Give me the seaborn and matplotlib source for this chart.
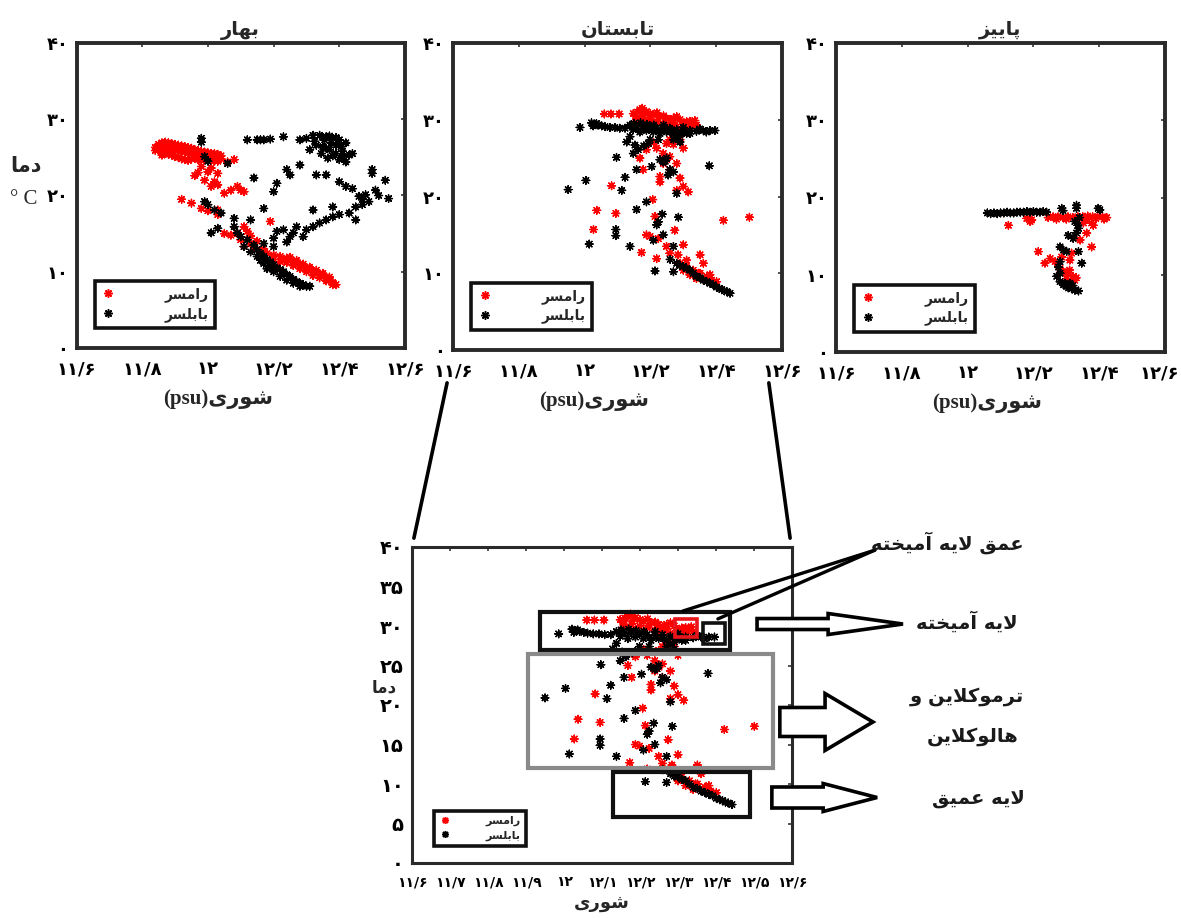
import re
import numpy as np
import pandas as pd
import matplotlib
matplotlib.use("Agg")
import matplotlib.pyplot as plt
import seaborn as sns
from matplotlib.patches import Rectangle, FancyArrow, ConnectionPatch
from matplotlib.lines import Line2D
from matplotlib.transforms import ScaledTranslation

# ------------------------------------------------------------------ data
seasons = ["بهار", "تابستان", "پاییز"]
stations = ["رامسر", "بابلسر"]
station_colors = ["#ff0000", "#000000"]

xticks_top = [11.6, 11.8, 12.0, 12.2, 12.4, 12.6]
xticklabels_top = ["۱۱/۶", "۱۱/۸", "۱۲", "۱۲/۲", "۱۲/۴", "۱۲/۶"]
yticks_top = [0, 10, 20, 30, 40]
yticklabels_top = ["۰", "۱۰", "۲۰", "۳۰", "۴۰"]

xticks_zoom = [11.6, 11.7, 11.8, 11.9, 12.0, 12.1, 12.2, 12.3, 12.4, 12.5, 12.6]
xticklabels_zoom = ["۱۱/۶", "۱۱/۷", "۱۱/۸", "۱۱/۹", "۱۲", "۱۲/۱", "۱۲/۲",
                    "۱۲/۳", "۱۲/۴", "۱۲/۵", "۱۲/۶"]
yticks_zoom = [0, 5, 10, 15, 20, 25, 30, 35, 40]
yticklabels_zoom = ["۰", "۵", "۱۰", "۱۵", "۲۰", "۲۵", "۳۰", "۳۵", "۴۰"]

xlabel_top = "شوری(psu)"
xlabel_zoom = "شوری"
ylabel_text = "دما"
ylabel_unit = "° C"

layer_labels = ["عمق لایه آمیخته", "لایه آمیخته", "ترموکلاین و", "هالوکلاین", "لایه عمیق"]

# ---- spring (بهار)
spring_ramsar_sal = [
    11.84, 11.85, 11.86, 11.87, 11.88, 11.89, 11.90, 11.91, 11.92, 11.93, 11.94,
    11.95, 11.96, 11.97, 11.98, 11.99, 12.00, 12.01, 12.02, 12.03, 12.04,
    11.84, 11.85, 11.86, 11.87, 11.88, 11.89, 11.90, 11.91, 11.92, 11.93, 11.94,
    11.95, 11.96, 11.97, 11.98, 11.99, 12.00, 12.01, 12.02, 12.03, 12.04,
    11.86, 11.87, 11.88, 11.89, 11.90, 11.91, 11.92, 11.93, 11.94, 11.95, 11.96,
    11.97, 11.98, 11.99, 12.00, 12.01, 12.02, 12.03,
    11.98, 12.00, 12.01, 12.03, 11.99, 12.02, 12.03, 12.01, 12.06, 12.08, 12.05,
    12.07, 12.09, 12.10, 12.11, 11.92, 11.95, 11.98, 12.00, 12.03, 12.03, 12.19,
    11.97, 11.96,
    12.05, 12.07, 12.09, 12.11, 12.12, 12.10, 12.11, 12.13, 12.14, 12.16, 12.18,
    12.20, 12.22, 12.24, 12.26, 12.28, 12.30, 12.32, 12.34, 12.36, 12.38, 12.39,
    12.20, 12.22, 12.24, 12.26, 12.28, 12.30, 12.32, 12.34, 12.36, 12.38,
    12.25, 12.27, 12.29, 12.31, 12.33, 12.35, 12.37, 12.13, 12.15, 12.17]
spring_ramsar_temp = [
    26.3, 26.7, 26.9, 27.0, 26.9, 26.8, 26.7, 26.6, 26.5, 26.4, 26.3,
    26.2, 26.0, 25.9, 25.8, 25.7, 25.6, 25.5, 25.5, 25.4, 25.2,
    25.9, 26.0, 26.2, 26.3, 26.2, 26.1, 26.0, 25.9, 25.8, 25.7, 25.6,
    25.5, 25.4, 25.3, 25.3, 25.2, 25.1, 25.0, 25.0, 24.9, 24.8,
    25.3, 25.5, 25.4, 25.3, 25.1, 25.0, 24.8, 24.7, 24.6, 24.8, 24.9,
    24.7, 24.6, 24.7, 24.6, 24.5, 24.6, 24.5,
    23.8, 23.1, 23.6, 22.9, 22.0, 21.8, 21.4, 21.2, 24.4, 24.7, 20.3,
    20.7, 21.2, 20.7, 20.5, 19.5, 19.0, 18.3, 18.0, 18.1, 17.5, 16.6,
    23.0, 22.6,
    15.0, 14.8, 15.0, 15.9, 15.3, 14.2, 13.3, 13.7, 13.3, 12.7, 12.4,
    12.2, 12.0, 11.8, 11.3, 10.9, 10.5, 10.0, 9.6, 9.2, 8.6, 8.3,
    11.6, 11.3, 11.2, 10.8, 10.4, 10.0, 9.5, 9.2, 8.8, 8.3,
    11.9, 11.5, 11.0, 10.6, 10.2, 9.8, 9.3, 14.7, 14.0, 13.0]

spring_babolsar_sal = [
    11.98, 11.98,
    12.12, 12.15, 12.16, 12.17, 12.19, 12.23, 12.28, 12.30,
    12.32, 12.34, 12.36, 12.38, 12.40, 12.42, 12.33, 12.35, 12.37, 12.39, 12.41,
    12.43, 12.345, 12.365, 12.40, 12.42, 12.31, 12.325, 12.355, 12.375, 12.39,
    12.405, 12.44, 12.41, 12.35, 12.37, 12.39, 12.36, 12.38,
    11.99, 12.00, 12.06, 12.14, 12.21, 12.20, 12.24, 12.25, 12.28, 12.33, 12.36,
    12.50, 12.50, 12.54, 12.55, 12.51, 12.40, 12.42, 12.44, 12.46, 12.48, 12.49,
    12.47, 12.45, 12.43, 12.45, 12.40, 12.38, 12.38, 12.36, 12.34, 12.32, 12.30,
    12.32, 12.27, 12.26, 12.25, 12.23, 12.21, 12.20, 12.17, 12.29, 12.24, 12.20,
    12.17, 12.52, 12.47,
    11.99, 12.00, 12.02, 12.04, 12.01, 12.03, 12.08, 12.13, 12.08,
    12.09, 12.10, 12.12, 12.14, 12.15, 12.16, 12.17, 12.18, 12.19, 12.20, 12.21,
    12.22, 12.23, 12.24, 12.25, 12.26, 12.27, 12.28, 12.29, 12.30, 12.31,
    12.15, 12.17, 12.19, 12.13, 12.20, 12.22, 12.24, 12.26, 12.28, 12.11, 12.16,
    12.18]
spring_babolsar_temp = [
    27.5, 27.0,
    27.3, 27.3, 27.3, 27.3, 27.4, 27.7, 27.3, 27.5,
    27.9, 27.9, 27.7, 27.5, 27.3, 26.9, 26.6, 26.4, 26.0, 25.5, 25.8,
    25.3, 25.5, 24.9, 24.7, 24.4, 26.0, 27.1, 27.3, 26.9, 26.6,
    26.4, 25.5, 25.1, 27.6, 27.8, 27.6, 26.2, 25.2,
    25.1, 24.5, 24.2, 22.3, 21.6, 20.5, 23.4, 22.7, 24.0, 22.7, 22.7,
    23.4, 22.9, 22.0, 19.6, 20.7, 21.8, 21.2, 20.9, 19.9, 20.1, 19.2,
    18.8, 18.5, 17.7, 16.8, 17.5, 18.5, 17.2, 16.8, 16.4, 15.9, 15.5,
    18.1, 15.9, 15.1, 14.6, 15.5, 15.3, 14.4, 18.3, 14.6, 13.9, 13.3,
    13.7, 20.0, 19.5,
    19.2, 18.8, 18.1, 17.7, 15.1, 15.7, 17.0, 16.8, 15.9,
    15.1, 14.6, 14.2, 13.5, 12.9, 12.4, 12.0, 11.6, 11.3, 10.9, 10.5,
    10.3, 10.0, 9.6, 9.4, 9.0, 8.7, 8.5, 8.3, 8.1, 8.1,
    12.0, 11.1, 10.7, 12.6, 10.0, 9.4, 8.9, 8.5, 8.1, 13.3, 11.5,
    10.4]

# ---- summer (تابستان)
summer_ramsar_sal = [
    12.06, 12.08, 12.105,
    12.148, 12.168, 12.188, 12.209, 12.229, 12.249, 12.27, 12.29, 12.31, 12.33,
    12.34, 12.158, 12.178, 12.199, 12.219, 12.239, 12.259, 12.28, 12.30, 12.32,
    12.27, 12.28, 12.29, 12.259, 12.249, 12.16, 12.18, 12.20, 12.22, 12.24,
    12.26, 12.28, 12.30, 12.32, 12.155, 12.175, 12.25, 12.27, 12.29, 12.31,
    12.335,
    12.168, 12.188, 12.219, 12.239, 12.259, 12.28, 12.239, 12.229, 12.229,
    12.259, 12.29, 12.30, 12.315, 12.28, 12.178, 12.30, 12.27, 12.21, 12.25,
    12.082, 12.037, 12.095, 12.027, 12.207, 12.214, 12.188, 12.199, 12.224,
    12.173, 12.274, 12.249, 12.259, 12.219, 12.30, 12.284, 12.31, 12.351,
    12.361, 12.346, 12.381, 12.422, 12.501,
    12.29, 12.31, 12.33, 12.351, 12.371, 12.386, 12.401, 12.32, 12.34, 12.30]
summer_ramsar_temp = [
    30.75, 30.75, 30.75,
    30.8, 31.3, 31.05, 30.6, 30.4, 30.2, 30.2, 30.0, 29.75, 29.5,
    29.3, 30.0, 30.2, 30.0, 29.75, 29.5, 29.3, 29.1, 28.9, 29.1,
    28.2, 27.8, 27.4, 27.4, 26.9, 31.0, 30.6, 30.8, 30.9, 30.5,
    29.9, 30.4, 29.4, 29.8, 30.5, 31.5, 29.0, 29.6, 28.6, 28.4,
    29.9,
    25.0, 26.1, 26.3, 25.6, 25.2, 24.3, 24.3, 22.6, 21.9,
    23.5, 22.4, 21.3, 20.6, 20.8, 23.5, 26.3, 26.8, 27.0, 24.8,
    21.4, 18.2, 17.8, 15.7, 19.6, 17.4, 15.0, 14.8, 14.5,
    12.7, 15.6, 13.5, 12.6, 11.9, 13.7, 12.4, 11.7, 12.4,
    11.3, 10.0, 9.8, 16.9, 17.3,
    11.3, 10.9, 10.4, 10.0, 9.6, 9.1, 8.9, 9.8, 9.3, 10.4]

summer_babolsar_sal = [
    11.986, 12.021, 12.031, 12.041, 12.052, 12.062, 12.077, 12.092, 12.107,
    12.123, 12.026, 12.036,
    12.138, 12.158, 12.178, 12.199, 12.219, 12.239, 12.259, 12.28, 12.30, 12.32,
    12.34, 12.361, 12.381, 12.396, 12.148, 12.168, 12.188, 12.209, 12.229,
    12.249, 12.27, 12.29, 12.31, 12.28, 12.29, 12.27, 12.15, 12.17, 12.19,
    12.21, 12.24, 12.26, 12.30, 12.32, 12.35, 12.37,
    12.138, 12.128, 12.153, 12.163, 12.148, 12.194, 12.199, 12.224, 12.229,
    12.249, 12.239, 12.259, 12.254, 12.27, 12.28, 12.204, 12.158, 12.123,
    12.097, 12.004, 11.95, 12.113, 12.188, 12.158, 12.236, 12.224, 12.285,
    12.219, 12.239, 12.209, 12.095, 12.095, 12.014, 12.138, 12.27, 12.214,
    12.379, 12.245, 12.18,
    12.28, 12.30, 12.32, 12.34, 12.361, 12.381, 12.401, 12.417, 12.432, 12.442,
    12.33, 12.351, 12.371, 12.391, 12.41, 12.425, 12.31, 12.29, 12.26, 12.27]
summer_babolsar_temp = [
    29.0, 29.6, 29.4, 29.3, 29.2, 29.1, 29.0, 29.0, 28.9,
    28.9, 29.2, 29.5,
    29.3, 29.1, 29.2, 29.0, 28.9, 28.8, 28.9, 28.7, 28.6, 28.6,
    28.5, 28.6, 28.6, 28.6, 28.7, 28.4, 28.6, 28.4, 28.2,
    28.4, 28.2, 28.0, 28.2, 27.6, 27.1, 27.4, 29.5, 29.6, 29.4,
    29.3, 29.3, 28.5, 29.0, 28.2, 28.8, 28.4,
    27.8, 27.1, 26.7, 26.1, 25.6, 26.9, 27.4, 27.4, 24.8,
    25.0, 24.5, 23.5, 22.8, 23.2, 20.4, 23.9, 23.5, 22.5,
    25.1, 22.1, 20.9, 20.8, 19.3, 18.3, 17.7, 16.7, 17.3,
    16.3, 15.0, 14.3, 15.7, 14.9, 13.8, 13.5, 13.5, 10.3,
    24.0, 24.6, 26.6,
    11.3, 10.9, 10.4, 9.6, 9.1, 8.7, 8.2, 7.9, 7.6, 7.4,
    10.0, 9.4, 8.9, 8.5, 8.0, 7.7, 10.6, 11.0, 11.8, 10.2]

# ---- autumn (پاییز)
autumn_ramsar_sal = [
    12.245, 12.26, 12.275, 12.29, 12.305, 12.32, 12.335, 12.35, 12.365, 12.38,
    12.395, 12.41, 12.423, 12.27, 12.30, 12.33, 12.36, 12.39, 12.415,
    12.18, 12.19, 12.195, 12.124,
    12.352, 12.377, 12.382, 12.362, 12.342, 12.377, 12.215, 12.251, 12.235,
    12.266, 12.311, 12.281, 12.291, 12.306, 12.321, 12.326, 12.301, 12.286,
    12.316, 12.31, 12.33]
autumn_ramsar_temp = [
    17.4, 17.5, 17.5, 17.4, 17.5, 17.4, 17.5, 17.5, 17.6, 17.5,
    17.5, 17.5, 17.4, 17.2, 17.2, 17.3, 17.2, 17.3, 17.2,
    17.3, 16.9, 17.1, 16.4,
    16.7, 16.7, 16.4, 15.4, 14.5, 13.6, 13.0, 12.1, 11.5,
    11.7, 11.9, 10.8, 10.4, 10.0, 9.8, 9.3, 9.5, 12.3,
    12.8, 10.6, 9.6]

autumn_babolsar_sal = [
    12.06, 12.07, 12.08, 12.09, 12.10, 12.11, 12.12, 12.13, 12.14, 12.15,
    12.16, 12.17, 12.18, 12.19, 12.20, 12.21, 12.22, 12.23, 12.24,
    12.286, 12.331, 12.331, 12.397, 12.402, 12.29,
    12.326, 12.337, 12.331, 12.306, 12.321, 12.281, 12.291, 12.301, 12.337,
    12.347, 12.281, 12.276, 12.271, 12.281, 12.291, 12.301, 12.316, 12.326,
    12.337, 12.311, 12.281, 12.34, 12.335, 12.296, 12.306, 12.32]
autumn_babolsar_temp = [
    18.0, 17.9, 18.0, 17.9, 18.0, 18.0, 18.1, 18.0, 18.0, 18.1,
    18.1, 18.1, 18.2, 18.1, 18.2, 18.1, 18.1, 18.2, 18.1,
    18.6, 19.0, 18.6, 18.6, 18.4, 18.3,
    16.9, 16.0, 15.4, 15.1, 14.7, 13.6, 13.2, 13.0, 13.0,
    11.5, 11.7, 11.0, 9.8, 9.1, 8.7, 8.5, 8.2, 8.0,
    7.9, 8.9, 10.2, 17.4, 16.4, 8.9, 8.3, 8.6]

season_data = [
    (spring_ramsar_sal, spring_ramsar_temp, spring_babolsar_sal, spring_babolsar_temp),
    (summer_ramsar_sal, summer_ramsar_temp, summer_babolsar_sal, summer_babolsar_temp),
    (autumn_ramsar_sal, autumn_ramsar_temp, autumn_babolsar_sal, autumn_babolsar_temp),
]

# ------------------------------------------------- Persian text shaping
FORMS = {
    'ا': ('\uFE8D', '\uFE8E', None, None),
    'آ': ('\uFE81', '\uFE82', None, None),
    'ب': ('\uFE8F', '\uFE90', '\uFE91', '\uFE92'),
    'پ': ('\uFB56', '\uFB57', '\uFB58', '\uFB59'),
    'ت': ('\uFE95', '\uFE96', '\uFE97', '\uFE98'),
    'خ': ('\uFEA5', '\uFEA6', '\uFEA7', '\uFEA8'),
    'د': ('\uFEA9', '\uFEAA', None, None),
    'ر': ('\uFEAD', '\uFEAE', None, None),
    'ز': ('\uFEAF', '\uFEB0', None, None),
    'س': ('\uFEB1', '\uFEB2', '\uFEB3', '\uFEB4'),
    'ش': ('\uFEB5', '\uFEB6', '\uFEB7', '\uFEB8'),
    'ع': ('\uFEC9', '\uFECA', '\uFECB', '\uFECC'),
    'ق': ('\uFED5', '\uFED6', '\uFED7', '\uFED8'),
    'ک': ('\uFB8E', '\uFB8F', '\uFB90', '\uFB91'),
    'ل': ('\uFEDD', '\uFEDE', '\uFEDF', '\uFEE0'),
    'م': ('\uFEE1', '\uFEE2', '\uFEE3', '\uFEE4'),
    'ن': ('\uFEE5', '\uFEE6', '\uFEE7', '\uFEE8'),
    'و': ('\uFEED', '\uFEEE', None, None),
    'ه': ('\uFEE9', '\uFEEA', '\uFEEB', '\uFEEC'),
    'ی': ('\uFBFC', '\uFBFD', '\uFBFE', '\uFBFF'),
}
LAM_ALEF = {'ا': ('\uFEFB', '\uFEFC'), 'آ': ('\uFEF5', '\uFEF6')}


def _dual(c):
    return c in FORMS and FORMS[c][2] is not None


def _shape(word):
    out, i, n = [], 0, len(word)
    while i < n:
        c = word[i]
        if c not in FORMS:
            out.append(c)
            i += 1
            continue
        join_prev = i > 0 and _dual(word[i - 1])
        if c == 'ل' and i + 1 < n and word[i + 1] in LAM_ALEF:
            iso, fin = LAM_ALEF[word[i + 1]]
            out.append(fin if join_prev else iso)
            i += 2
            continue
        join_next = _dual(c) and i + 1 < n and word[i + 1] in FORMS
        iso, fin, ini, med = FORMS[c]
        if join_prev and join_next:
            out.append(med)
        elif join_prev:
            out.append(fin)
        elif join_next:
            out.append(ini)
        else:
            out.append(iso)
        i += 1
    return out


def fa(text):
    """Visual-order (left to right) rendering of a right-to-left Persian string."""
    runs = re.findall(r'[A-Za-z()]+|[^A-Za-z()]+', text)
    pieces = []
    for r in reversed(runs):
        if re.match(r'[A-Za-z()]', r):
            pieces.append(r)
        else:
            pieces.append(''.join(reversed(_shape(r))))
    return ''.join(pieces)


# ------------------------------------------------------------------ style
sns.set_theme(style="white")
plt.rcParams['font.family'] = ['DejaVu Sans']
plt.rcParams['axes.unicode_minus'] = False

W, H = 1181, 918
fig = plt.figure(figsize=(W / 100, H / 100), dpi=100)
fig.patch.set_facecolor("white")


def px_axes(l, t, r, b):
    return fig.add_axes([l / W, 1 - b / H, (r - l) / W, (b - t) / H])


def fig_xy(x, y):
    return x / W, 1 - y / H


MARK = (8, 2, 0)
palette = dict(zip(stations, station_colors))


def draw_scatter(ax, rs, rt, bs, bt, size):
    df = pd.DataFrame({
        "sal": list(rs) + list(bs),
        "temp": list(rt) + list(bt),
        "station": [stations[0]] * len(rs) + [stations[1]] * len(bs),
    })
    sns.scatterplot(data=df, x="sal", y="temp", hue="station", palette=palette,
                    marker=MARK, s=size, linewidth=1.0, legend=False, ax=ax,
                    zorder=3)


def style_axes(ax, xt, xtl, yt, ytl, xfs, yfs, spine_w):
    ax.set_xlim(11.6, 12.6)
    ax.set_ylim(0, 40)
    ax.set_xticks(xt)
    ax.set_xticklabels(xtl, fontsize=xfs, fontweight="bold")
    ax.set_yticks(yt)
    ax.set_yticklabels(ytl, fontsize=yfs, fontweight="bold")
    ax.tick_params(direction="in", length=3, width=1.2, top=True, right=True,
                   colors="#333333", labelcolor="black")
    ax.tick_params(axis="x", pad=9)
    ax.tick_params(axis="y", pad=6)
    ax.set_xlabel("")
    ax.set_ylabel("")
    for sp in ax.spines.values():
        sp.set_linewidth(spine_w)
        sp.set_color("#2a2a2a")
    ax.grid(False)


def add_legend(ax, fs, anchor, pad_text, msize):
    handles = [Line2D([], [], ls="", marker=MARK, color=c, markersize=msize,
                      markeredgewidth=1.1) for c in station_colors]
    leg = ax.legend(handles, [fa(s) for s in stations], loc="lower left",
                    bbox_to_anchor=anchor, borderaxespad=0, frameon=True,
                    fancybox=False, handlelength=1.0, handletextpad=pad_text,
                    borderpad=0.45, labelspacing=0.35,
                    prop={"size": fs, "weight": "bold"})
    fr = leg.get_frame()
    fr.set_edgecolor("#111111")
    fr.set_linewidth(2.6)
    fr.set_alpha(1)
    return leg


# ------------------------------------------------------------ top panels
boxes = [(76.5, 43, 405, 348), (453, 43, 782, 350), (836, 43, 1165, 352)]
xlabel_x = [0.43, 0.43, 0.46]
axes_top = []
for k, (box, season, data) in enumerate(zip(boxes, seasons, season_data)):
    ax = px_axes(*box)
    draw_scatter(ax, *data, size=30)
    style_axes(ax, xticks_top, xticklabels_top, yticks_top, yticklabels_top,
               13, 13, 2.8)
    ax.set_title(fa(season), fontsize=14, fontweight="bold", pad=6)
    ax.set_xlabel(fa(xlabel_top), fontsize=15, fontweight="bold",
                  family=["Liberation Serif", "DejaVu Sans"])
    ax.xaxis.set_label_coords(xlabel_x[k], -0.133)
    add_legend(ax, 10, (0.056, 0.066), 3.6, 6)
    axes_top.append(ax)

# keep the last tick label of the right-most panel inside the picture
last_lbl = axes_top[2].get_xticklabels()[-1]
last_lbl.set_transform(last_lbl.get_transform()
                       + ScaledTranslation(-6 / 100, 0, fig.dpi_scale_trans))

fig.text(*fig_xy(26, 166), fa(ylabel_text), fontsize=15, fontweight="bold",
         ha="center", va="center")
fig.text(*fig_xy(24, 200), ylabel_unit, fontsize=15,
         family=["Liberation Serif", "DejaVu Sans"], ha="center", va="center")

# ---------------------------------------------------------- zoomed panel
ax4 = px_axes(412, 547, 792, 863)
draw_scatter(ax4, *season_data[1], size=30)
style_axes(ax4, xticks_zoom, xticklabels_zoom, yticks_zoom, yticklabels_zoom,
           10, 14, 2.2)
ax4.set_xlabel(fa(xlabel_zoom), fontsize=13, fontweight="bold", labelpad=3)
add_legend(ax4, 8, (0.058, 0.055), 3.2, 5)
fig.text(*fig_xy(384, 687), fa(ylabel_text), fontsize=12, fontweight="bold",
         ha="center", va="center")

# connecting lines from summer panel to the zoomed panel
for xa, xb in [(-0.018, 0.005), (0.960, 0.995)]:
    con = ConnectionPatch(xyA=(xa, -0.107), coordsA=axes_top[1].transAxes,
                          xyB=(xb, 1.028), coordsB=ax4.transAxes,
                          color="black", lw=2.6)
    fig.add_artist(con)

# layer boxes (data coordinates of the zoomed panel)
layer_boxes = [
    (11.937, 27.0, 0.500, 4.8, "#111111", 3.0),
    (12.292, 28.6, 0.058, 2.3, "#e8151b", 2.6),
    (12.366, 27.7, 0.058, 2.7, "#111111", 2.6),
    (11.905, 12.0, 0.645, 14.5, "#8a8a8a", 3.0),
    (12.129, 5.8, 0.360, 5.7, "#111111", 3.0),
]
for x0, y0, w, h, col, lw in layer_boxes:
    ax4.add_patch(Rectangle((x0, y0), w, h, fill=False, edgecolor=col, lw=lw,
                            zorder=4))

# hollow arrows
arrows = [
    (12.508, 30.25, 0.384, 1.39, 2.66, 0.197),
    (12.568, 17.85, 0.245, 3.67, 7.2, 0.126),
    (12.547, 8.29, 0.277, 2.66, 3.54, 0.142),
]
for x0, y0, dx, wd, hw, hl in arrows:
    ax4.add_patch(FancyArrow(x0, y0, dx, 0, width=wd, head_width=hw,
                             head_length=hl, length_includes_head=True,
                             facecolor="white", edgecolor="black", lw=2.6,
                             clip_on=False, zorder=5))

# pointer lines to the mixed-layer-depth boxes
for xe, ye in [(12.313, 31.9), (12.405, 30.9)]:
    ax4.add_line(Line2D([12.818, xe], [39.6, ye], color="black", lw=2.4,
                        clip_on=False, zorder=5))

label_pos = [(947, 543), (967, 622), (967, 697), (973, 737), (978, 798)]
for txt, (x, y) in zip(layer_labels, label_pos):
    fig.text(*fig_xy(x, y), fa(txt), fontsize=14, fontweight="bold",
             ha="center", va="center", color="#1a1a1a")

fig.savefig("out.png", dpi=100, facecolor="white")
